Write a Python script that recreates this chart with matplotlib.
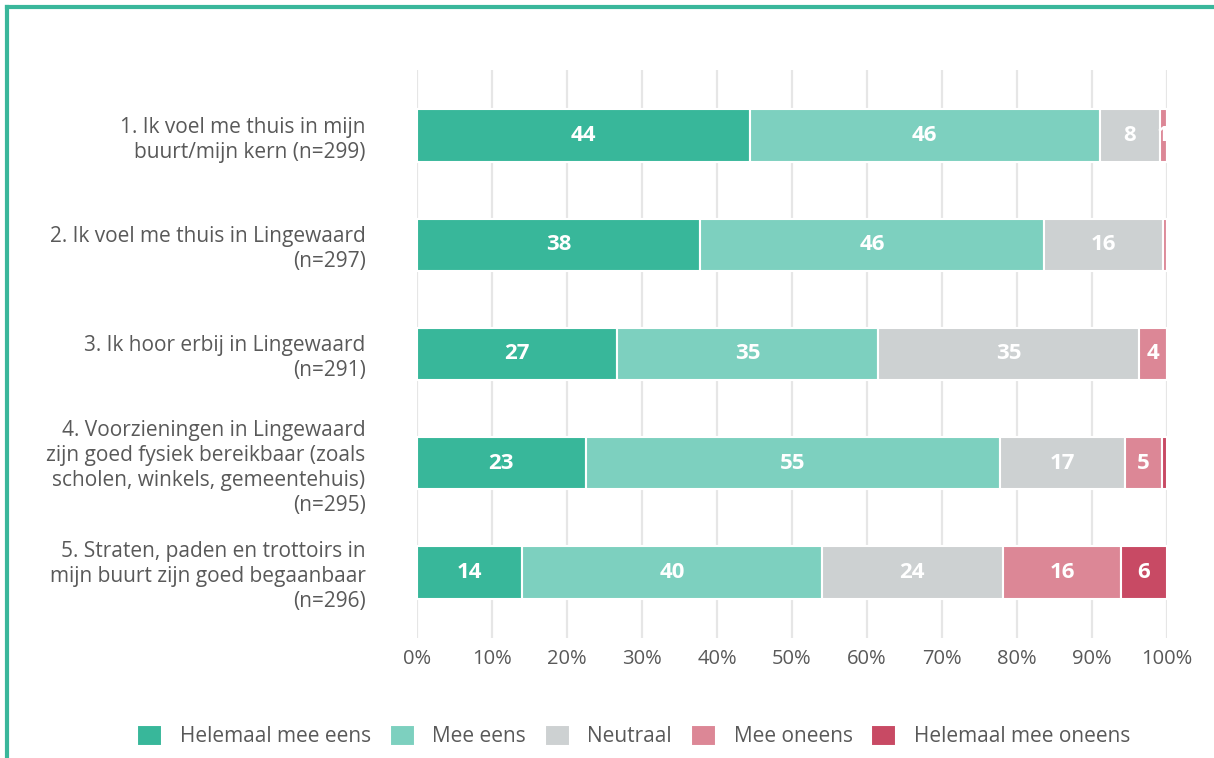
import matplotlib.pyplot as plt
from matplotlib.lines import Line2D
import numpy as np

plt.rcParams['font.family'] = ['Open Sans', 'DejaVu Sans']

# stellingen (van boven naar beneden)
stellingen = [
    '1. Ik voel me thuis in mijn\nbuurt/mijn kern (n=299)',
    '2. Ik voel me thuis in Lingewaard\n(n=297)',
    '3. Ik hoor erbij in Lingewaard\n(n=291)',
    '4. Voorzieningen in Lingewaard\nzijn goed fysiek bereikbaar (zoals\nscholen, winkels, gemeentehuis)\n(n=295)',
    '5. Straten, paden en trottoirs in\nmijn buurt zijn goed begaanbaar\n(n=296)',
]

categorieen = ['Helemaal mee eens', 'Mee eens', 'Neutraal', 'Mee oneens', 'Helemaal mee oneens']
kleuren = ['#38b79a', '#7dd0bf', '#cdd1d2', '#dc8796', '#c84a64']

helemaal_eens = [44.4, 37.7, 26.7, 22.5, 14.0]
mee_eens = [46.6, 45.9, 34.8, 55.2, 40.0]
neutraal = [8.0, 15.9, 34.8, 16.7, 24.1]
mee_oneens = [1.0, 0.5, 3.7, 4.9, 15.8]
helemaal_oneens = [0.0, 0.0, 0.0, 0.7, 6.1]

# labels zoals in de grafiek
labels_helemaal_eens = ['44', '38', '27', '23', '14']
labels_mee_eens = ['46', '46', '35', '55', '40']
labels_neutraal = ['8', '16', '35', '17', '24']
labels_mee_oneens = ['1', '', '4', '5', '16']
labels_helemaal_oneens = ['', '', '', '', '6']

reeksen = [helemaal_eens, mee_eens, neutraal, mee_oneens, helemaal_oneens]
labels = [labels_helemaal_eens, labels_mee_eens, labels_neutraal,
          labels_mee_oneens, labels_helemaal_oneens]

fig = plt.figure(figsize=(12.14, 7.58), dpi=100)
ax = fig.add_axes([417 / 1214, 1 - 638 / 758, 750 / 1214, 568 / 758])

y = np.arange(len(stellingen))
links = np.zeros(len(stellingen))
for waarden, lab, kleur, naam in zip(reeksen, labels, kleuren, categorieen):
    bars = ax.barh(y, waarden, left=links, height=0.48, color=kleur,
                   edgecolor='white', linewidth=1.5, label=naam, zorder=3)
    for rect, tekst in zip(bars, lab):
        if tekst:
            t = ax.text(rect.get_x() + rect.get_width() / 2, rect.get_y() + rect.get_height() / 2,
                        tekst, ha='center', va='center', color='white',
                        fontsize=16, fontweight='bold', zorder=4)
            t.set_clip_path(rect)
    links += np.array(waarden)

ax.set_xlim(0, 100)
ax.set_ylim(4.6, -0.6)
ax.set_xticks(np.arange(0, 101, 10))
ax.set_xticklabels([f'{v}%' for v in range(0, 101, 10)])
ax.set_yticks(y)
ax.set_yticklabels(stellingen, linespacing=1.25)
ax.tick_params(axis='x', length=0, labelsize=14.5, labelcolor='#595959', pad=8)
ax.tick_params(axis='y', length=0, labelsize=15, labelcolor='#595959', pad=37)
for s in ax.spines.values():
    s.set_visible(False)
ax.grid(axis='x', color='#e6e6e6', linewidth=1.6, zorder=0)
ax.set_axisbelow(True)

# legenda
fig.legend(loc='center', bbox_to_anchor=(0.522, 1 - 736 / 758), ncol=5, frameon=False,
           fontsize=15, labelcolor='#595959', handlelength=1.2, handleheight=1.2,
           handletextpad=0.85, columnspacing=0.9)

# groene kader-rand
fig.add_artist(Line2D([7 / 1214, 1], [1 - 7 / 758, 1 - 7 / 758], color='#3ab79b', linewidth=3,
                      transform=fig.transFigure))
fig.add_artist(Line2D([7 / 1214, 7 / 1214], [0, 1 - 7 / 758], color='#3ab79b', linewidth=3,
                      transform=fig.transFigure))

plt.savefig('out.png', dpi=100)
